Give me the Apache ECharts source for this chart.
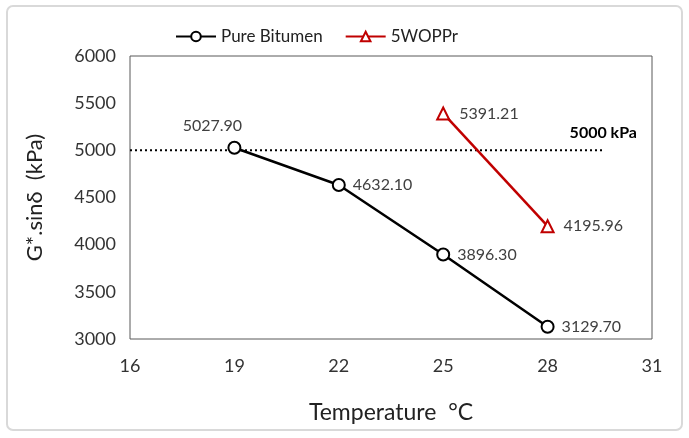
<!DOCTYPE html>
<html>
<head>
<meta charset="utf-8">
<script src="https://cdn.jsdelivr.net/npm/echarts@6/dist/echarts.min.js"></script>
<style>
html, body { margin: 0; padding: 0; background: #fff; }
#chart { width: 689px; height: 438px; }
</style>
</head>
<body>
<div id="chart"></div>
<script>
var temps = [19, 22, 25, 28];
var pureBitumen = [5027.90, 4632.10, 3896.30, 3129.70];
var wopprTemps = [25, 28];
var woppr = [5391.21, 4195.96];
var refValue = 5000;
var refEnd = 29.6;

var font = 'Lato, "Open Sans", sans-serif';
var myChart = echarts.init(document.getElementById('chart'));

// labels beside the points
var pureLabels = [
    { position: 'top', offset: [-22, -2] },
    { position: 'right', offset: [2, 0] },
    { position: 'right', offset: [2, 0] },
    { position: 'right', offset: [2, 0] }
];

option = {
    backgroundColor: '#fff',
    animation: false,
    textStyle: { fontFamily: font },
    graphic: [{
        type: 'rect',
        shape: { x: 7, y: 6, width: 675, height: 424, r: 6 },
        style: { fill: 'none', stroke: '#d9d9d9', lineWidth: 2 },
        silent: true
    }],
    legend: {
        data: ['Pure Bitumen', '5WOPPr'],
        top: 23,
        left: 170,
        itemWidth: 40,
        itemHeight: 12,
        itemGap: 22,
        textStyle: { fontSize: 17, color: '#222', fontFamily: font }
    },
    grid: {
        left: 130,
        right: 37,
        top: 56,
        bottom: 99,
        show: true,
        borderColor: '#595959',
        borderWidth: 1
    },
    xAxis: {
        type: 'value',
        min: 16,
        max: 31,
        interval: 3,
        name: 'Temperature  °C',
        nameLocation: 'middle',
        nameGap: 62,
        nameTextStyle: { fontSize: 23, color: '#222', fontFamily: font },
        axisLine: { show: false },
        axisTick: { show: false },
        splitLine: { show: false },
        axisLabel: { fontSize: 18, color: '#333', margin: 18, fontFamily: font }
    },
    yAxis: {
        type: 'value',
        min: 3000,
        max: 6000,
        interval: 500,
        name: 'G*.sinδ  (kPa)',
        nameLocation: 'middle',
        nameGap: 84,
        nameTextStyle: { fontSize: 22, color: '#222', fontFamily: font },
        axisLine: { show: false },
        axisTick: { show: false },
        splitLine: { show: false },
        axisLabel: {
            fontSize: 18, color: '#333', margin: 14, fontFamily: font,
            formatter: function (v) { return String(v); }
        }
    },
    series: [
        {
            name: 'ref',
            type: 'line',
            data: [[16, refValue], [refEnd, refValue]],
            symbol: 'circle',
            symbolSize: 1,
            itemStyle: { color: 'rgba(0,0,0,0)' },
            silent: true,
            lineStyle: { color: '#000', width: 2, type: [2, 3] },
            label: { show: false },
            z: 1
        },
        {
            name: 'Pure Bitumen',
            type: 'line',
            data: temps.map(function (t, i) {
                return { value: [t, pureBitumen[i]], label: pureLabels[i] };
            }),
            symbol: 'circle',
            symbolSize: 12,
            itemStyle: { color: '#fff', borderColor: '#000', borderWidth: 2 },
            lineStyle: { color: '#000', width: 2.5 },
            label: {
                show: true,
                fontSize: 16,
                color: '#404040',
                fontFamily: font,
                formatter: function (p) { return p.value[1].toFixed(2); }
            },
            z: 3
        },
        {
            name: '5WOPPr',
            type: 'line',
            data: wopprTemps.map(function (t, i) { return [t, woppr[i]]; }),
            symbol: 'triangle',
            symbolSize: 12,
            itemStyle: { color: '#fff', borderColor: '#c00000', borderWidth: 2 },
            lineStyle: { color: '#c00000', width: 2.5 },
            label: {
                show: true,
                position: 'right',
                offset: [4, 0],
                fontSize: 16,
                color: '#404040',
                fontFamily: font,
                formatter: function (p) { return p.value[1].toFixed(2); }
            },
            z: 3
        }
    ]
};

// "5000 kPa" label at the end of the reference line
option.series[0].data[1] = {
    value: [refEnd, refValue],
    label: {
        show: true,
        position: 'top',
        offset: [0, -4],
        formatter: '5000 kPa',
        fontSize: 16,
        fontWeight: 'bold',
        color: '#000',
        fontFamily: font
    }
};

myChart.setOption(option);
</script>
</body>
</html>
